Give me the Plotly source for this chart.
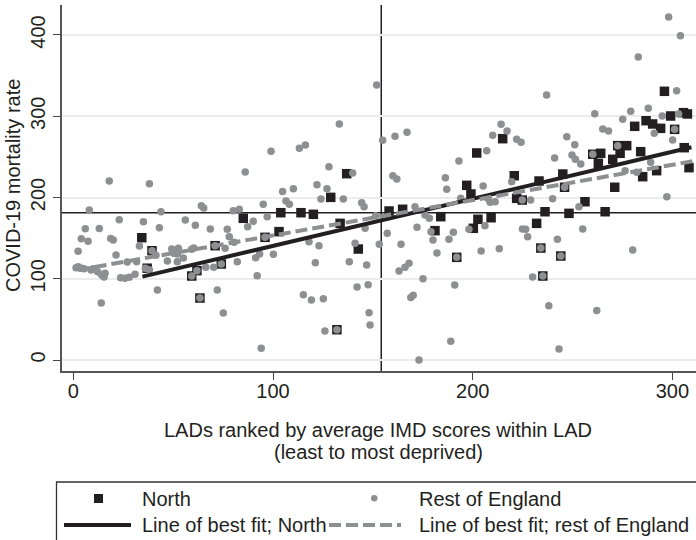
import plotly.graph_objects as go

# ---------------- data ----------------
north_rank = [136.9, 215, 202, 197, 220.8,
              296, 299.1, 305.5, 307.5, 281.1, 286.8, 290.1, 294.1, 301.1, 260.1, 264.1, 272.6, 277.1,
              273.8, 270.1, 262.9, 284.1, 305.9, 308.3, 292.1, 285.1, 245.1, 233.2, 271.1,
              34.3, 39.4, 37, 59.3, 61.9, 71, 63.4,
              128.9, 85.1, 103.9, 114, 120.2, 133.6, 103, 96, 142.7, 74.1, 132,
              199.1, 224.8, 222, 158.1, 164.9, 184, 181.1, 200.3, 202.6, 209.2, 192,
              246, 256.2, 236.2, 248.2, 266.3, 232, 234.1, 244.1, 235.1]
north_rate = [229.3, 272.4, 254.8, 215, 226.8,
              330.7, 300.3, 304.4, 302.8, 287.6, 294.5, 290.5, 285.1, 283.9, 253.2, 254.4, 263.8, 263.8,
              254.4, 247, 242, 256.4, 261.3, 236.7, 233, 225.6, 228.9, 220.3, 212.6,
              150.5, 134.5, 113, 103.4, 110, 140.7, 76.3,
              200.2, 174.4, 181.3, 181.3, 179.3, 168.2, 158, 151, 136.6, 118.2, 37.3,
              204.3, 196.9, 199, 183.4, 185.5, 176.4, 159.2, 162.1, 173.2, 175.1, 126.4,
              212.6, 194.8, 182.5, 180.5, 182.5, 168.2, 137.8, 128, 103.4]

rest_rank = [18.0, 38.1,
             133.2, 99, 113.2, 116.2, 128, 139.9, 86.1, 122, 110.2, 127, 104.8,
             151.9, 154.9, 161.1, 167.1, 214.2, 217.2, 210, 222, 224.2, 207, 193.1, 160, 162, 186.3, 187,
             205.2, 219.5,
             298.1, 304, 282.9, 237, 302.1, 261.1, 275.1, 279.1, 287.9, 294.9, 303.1, 265.1, 268, 290.9,
             301.1, 247.1, 251.1, 300.1, 241, 249.7, 251.4, 254.1, 260.1, 272.6, 289.1, 276.3, 282.1,
             8, 64.1, 65.3, 43.9, 23, 35.1, 56.1, 61.1, 68.6, 6, 13, 43.1, 4, 7.4, 18.7, 20, 33.1, 39.4,
             2.4, 21.4, 49.3, 52.6, 50.4, 52.1, 59.3, 60.3, 71, 41.4, 47.1, 52.1, 55.1, 27, 31.7, 1.4,
             2.5, 4.2, 5.4, 8.9, 10, 12.2, 14.2, 15.4, 15.9, 23.7, 25.9, 28, 30.9, 36.1, 38.1, 42.1, 14,
             59.3, 61.9, 66.3, 70.3, 72.1, 63.4,
             106.5, 108.2, 124, 135.2, 95.1, 80.1, 83.1, 144.4, 145.6, 90.1, 87.3, 97.1, 77.1, 78.1,
             146.1, 96, 80.5, 76, 118, 123, 141.1, 100.2, 91.3, 93.3, 82.1, 74.1, 121.2, 138.2, 146.9,
             92.1, 115.2, 119.2, 125.2, 142.1, 147.6, 75.1, 148.1, 126, 132, 94.1, 148.6,
             194, 207.5, 208.7, 211.2, 171.1, 151.4, 176.1, 178.3, 179.1, 180.1, 172.1, 157.2, 190.3,
             188.1, 198.1, 206.1, 153.2, 164.1, 182.1, 192, 204.2, 213.3, 226.5, 227.5, 163.1, 166.1,
             168.1, 175.1, 191, 169, 170.2, 189, 173.1, 224.8,
             229, 240, 297.2, 253.2, 224.9, 242.4, 255.1, 280.1, 230, 238.1, 262.1, 243.2, 246, 234.1,
             244.1, 235.1]
rest_rate = [220.3, 217,
             290.5, 256.9, 260.5, 264.6, 237.9, 230.2, 231.4, 215.8, 210.8, 210.8, 207.5,
             338.5, 270.4, 275.3, 280.2, 290.1, 281.8, 276.5, 271.6, 267.9, 257.6, 244.9, 226.8, 222.8,
             224.4, 210.1, 214.2, 219.5,
             422.2, 399.2, 372.9, 326.2, 331.5, 303.2, 296.2, 306.1, 309.7, 300.3, 302.8, 284.3, 281.8,
             279, 283.9, 274.8, 265, 270.8, 248.6, 252.3, 247, 241.2, 253.2, 263.8, 243.3, 233, 231,
             184.6, 189.9, 187.1, 182.5, 172.7, 170.2, 172.3, 165.8, 161.2, 161.6, 162, 162.9, 149.3,
             146.1, 149.7, 147.7, 140.3, 134.5, 133.8, 129.2, 136.6, 137.5, 131.3, 130.5, 136.2, 137.8,
             140.7, 128.8, 121.8, 121, 125.5, 120.6, 121, 113.6, 114.8, 112.8, 112.4, 110.8, 112.4,
             108.7, 104.6, 102.2, 106.7, 101.3, 100.6, 101.8, 105.5, 112.8, 111.1, 86.2, 70.2,
             103.4, 110, 114.1, 114.1, 86.2, 76.3,
             195.7, 191.6, 198.2, 198.2, 191.6, 183.8, 185.5, 193.6, 188.7, 170.7, 164.1, 176.4, 160.8,
             151.8, 162.1, 151, 144.9, 137.5, 145.6, 140.7, 143.6, 130.1, 125.9, 130.5, 121, 118.2,
             119.8, 121, 116.9, 103.8, 80.4, 73.8, 75.4, 89.8, 92.7, 57.8, 58.2, 35.7, 37.3, 14.4, 43.1,
             199, 199, 194.1, 194.8, 188.7, 177.6, 178.5, 174.4, 157.9, 147.7, 163.3, 155.9, 157.1,
             148.5, 160.8, 165.3, 142.4, 142.4, 131.7, 126.4, 134.2, 137, 160.8, 151.8, 109.5, 114.1,
             119, 100.1, 92.3, 77.1, 79.6, 23, 0, 196.9,
             196.9, 198.5, 201, 188.7, 161.2, 148.5, 161.2, 135.4, 102.2, 66.8, 61.1, 13.5, 212.6,
             137.8, 128, 103.4]

# lines of best fit (end points)
fit_north_x = [34.6, 309.5]
fit_north_y = [102.6, 261.8]
fit_rest_x = [2.3, 310]
fit_rest_y = [110.8, 244.6]

# reference lines
median_rank = 154.2
mean_rate = 181.3

x_ticks = [0, 100, 200, 300]
y_ticks = [0, 100, 200, 300, 400]

# ---------------- styling ----------------
FONT = "Liberation Sans, Arial, sans-serif"
DARK = "#231f20"
GREY = "#8e8f91"
W, H = 696, 540
ML, MR, MT, MB = 62, 0, 5, 169
PW, PH = W - ML - MR, H - MT - MB


def px2x(px):
    return (px - ML) / PW


def py2y(py):
    return (H - MB - py) / PH


fig = go.Figure()
fig.add_trace(go.Scatter(x=north_rank, y=north_rate, mode="markers", name="North",
                         marker=dict(symbol="square", size=9.5, color=DARK, line=dict(width=0)),
                         showlegend=False))
fig.add_trace(go.Scatter(x=rest_rank, y=rest_rate, mode="markers", name="Rest of England",
                         marker=dict(symbol="circle", size=7.5, color=GREY, line=dict(width=0)),
                         showlegend=False))
fig.add_trace(go.Scatter(x=fit_north_x, y=fit_north_y, mode="lines",
                         name="Line of best fit; North",
                         line=dict(color=DARK, width=4), showlegend=False))
fig.add_trace(go.Scatter(x=fit_rest_x, y=fit_rest_y, mode="lines",
                         name="Line of best fit; rest of England",
                         line=dict(color=GREY, width=4, dash="12px,5px"), showlegend=False))

shapes = [
    dict(type="line", xref="x", yref="paper", x0=median_rank, x1=median_rank, y0=0, y1=1,
         line=dict(color=DARK, width=1.5), layer="below"),
    dict(type="line", xref="paper", yref="y", x0=0, x1=1, y0=mean_rate, y1=mean_rate,
         line=dict(color=DARK, width=1.5), layer="below"),
    # legend box
    dict(type="rect", xref="paper", yref="paper", x0=px2x(56.5), x1=px2x(705),
         y0=py2y(550), y1=py2y(482), line=dict(color="#333333", width=1.3)),
    # legend symbols
    dict(type="rect", xref="paper", yref="paper", x0=px2x(94), x1=px2x(103),
         y0=py2y(503), y1=py2y(494), fillcolor=DARK, line=dict(width=0)),
    dict(type="circle", xref="paper", yref="paper", x0=px2x(371), x1=px2x(377.5),
         y0=py2y(501.5), y1=py2y(495), fillcolor=GREY, line=dict(width=0)),
    dict(type="line", xref="paper", yref="paper", x0=px2x(64), x1=px2x(131),
         y0=py2y(525), y1=py2y(525), line=dict(color=DARK, width=4)),
    dict(type="line", xref="paper", yref="paper", x0=px2x(329), x1=px2x(401),
         y0=py2y(525), y1=py2y(525), line=dict(color=GREY, width=4, dash="12px,5px")),
]

annotations = [
    dict(text="LADs ranked by average IMD scores within LAD", xref="paper", yref="paper",
         x=px2x(378), y=py2y(430), showarrow=False, xanchor="center", yanchor="middle",
         font=dict(family=FONT, size=20, color=DARK)),
    dict(text="(least to most deprived)", xref="paper", yref="paper",
         x=px2x(378), y=py2y(452), showarrow=False, xanchor="center", yanchor="middle",
         font=dict(family=FONT, size=20, color=DARK)),
    dict(text="COVID-19 mortality rate", xref="paper", yref="paper",
         x=px2x(13), y=py2y(186), showarrow=False, xanchor="center", yanchor="middle",
         textangle=-90, font=dict(family=FONT, size=20, color=DARK)),
    dict(text="North", xref="paper", yref="paper", x=px2x(140), y=py2y(499),
         showarrow=False, xanchor="left", yanchor="middle", font=dict(family=FONT, size=20, color=DARK)),
    dict(text="Rest of England", xref="paper", yref="paper", x=px2x(417), y=py2y(499),
         showarrow=False, xanchor="left", yanchor="middle", font=dict(family=FONT, size=20, color=DARK)),
    dict(text="Line of best fit; North", xref="paper", yref="paper", x=px2x(140), y=py2y(525),
         showarrow=False, xanchor="left", yanchor="middle", font=dict(family=FONT, size=20, color=DARK)),
    dict(text="Line of best fit; rest of England", xref="paper", yref="paper", x=px2x(417),
         y=py2y(525), showarrow=False, xanchor="left", yanchor="middle",
         font=dict(family=FONT, size=20, color=DARK)),
]

fig.update_layout(
    width=W, height=H,
    margin=dict(l=ML, r=MR, t=MT, b=MB, pad=0),
    paper_bgcolor="white", plot_bgcolor="white",
    font=dict(family=FONT, size=20, color=DARK),
    shapes=shapes, annotations=annotations,
    hovermode=False,
    xaxis=dict(range=[-5.66, 311.8], tickvals=x_ticks, ticks="outside", ticklen=7,
               tickwidth=1.2, tickcolor="#444", showline=True, linecolor="#555", linewidth=1.5,
               showgrid=False, zeroline=False, ticklabelstandoff=-6,
               tickfont=dict(family=FONT, size=20, color=DARK)),
    yaxis=dict(range=[-13.5, 436.9], tickvals=y_ticks, tickangle=-90, ticks="outside",
               ticklen=7, tickwidth=1.2, tickcolor="#444", showline=True, linecolor="#555",
               linewidth=1.5, showgrid=True, gridcolor="#ececec", gridwidth=1.5, zeroline=False,
               tickfont=dict(family=FONT, size=20, color=DARK)),
)

# remove the browser's default 8px page margin so the 696x540 figure fills the window
fig.write_html("out.html", config={"displayModeBar": False},
               post_script="document.body.style.margin='0';")
